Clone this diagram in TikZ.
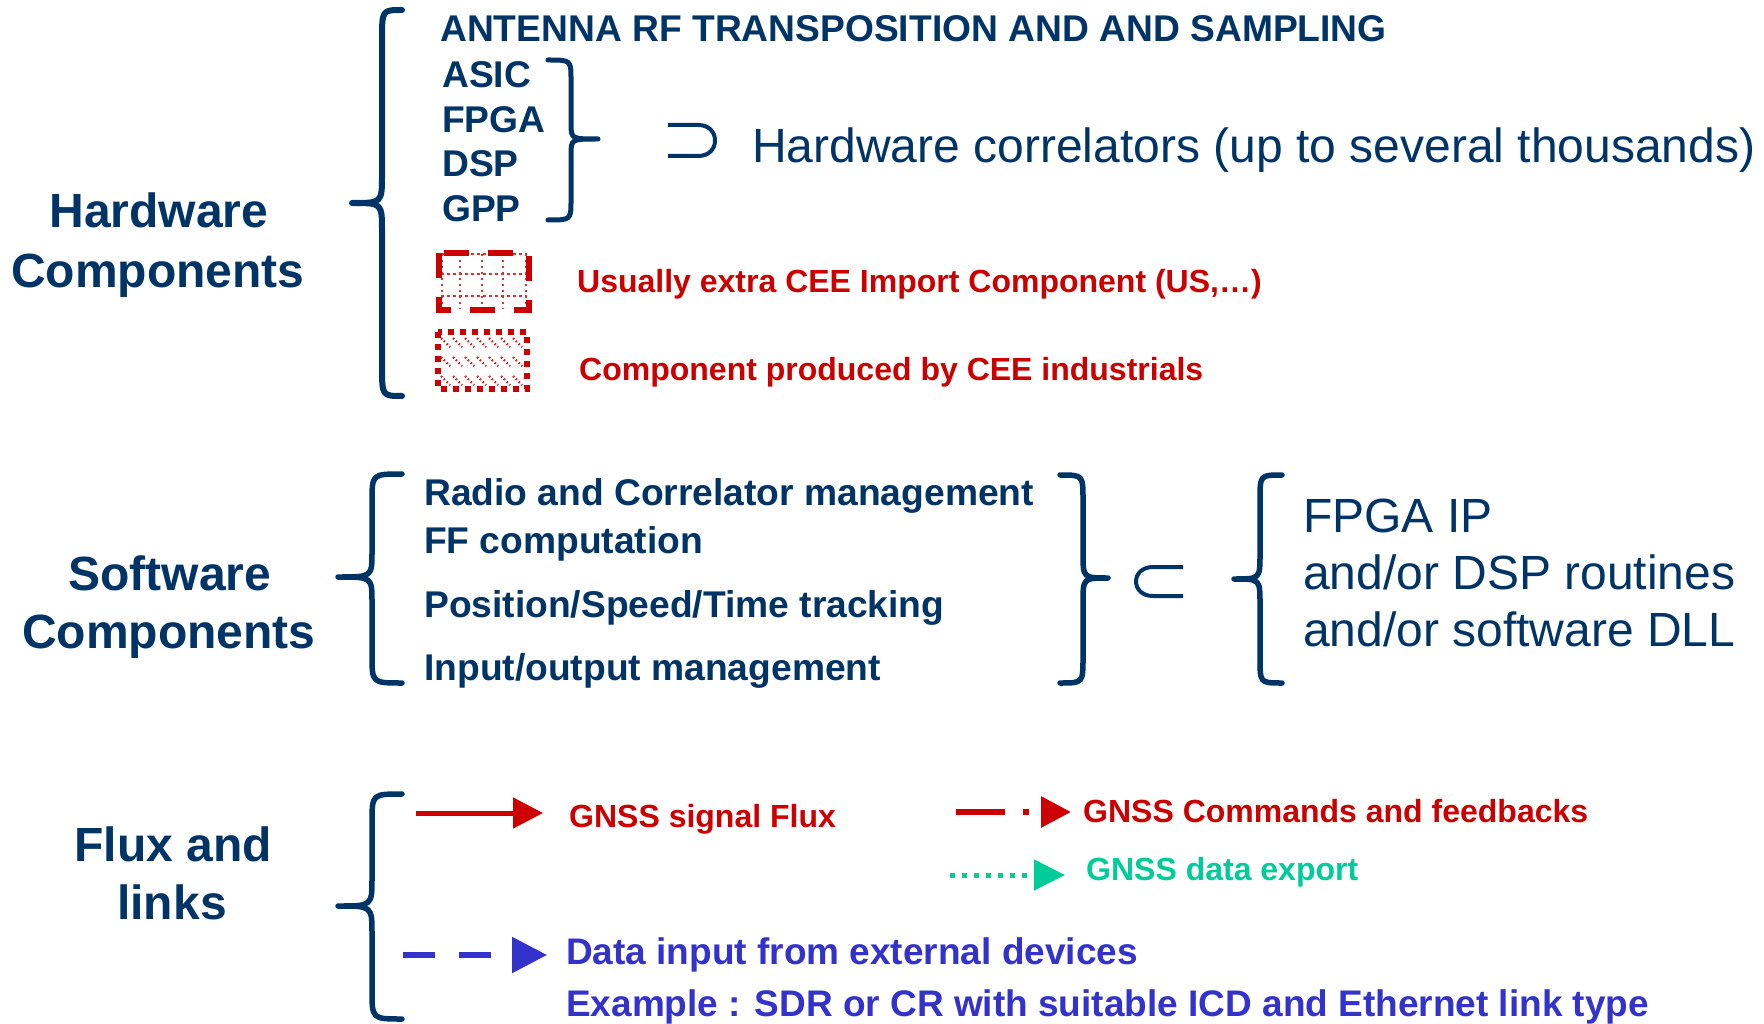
\documentclass[tikz,border=0pt]{standalone}
\usepackage{fontspec}
\setmainfont{Liberation Sans}
\usetikzlibrary{arrows.meta}
\definecolor{navy}{RGB}{0,51,102}
\definecolor{cred}{RGB}{204,0,0}
\definecolor{cteal}{RGB}{0,204,153}
\definecolor{cblue}{RGB}{51,51,204}
\begin{document}
\begin{tikzpicture}[x=1pt,y=-1pt,
  title/.style={anchor=base,text=navy,font=\fontsize{48}{58}\selectfont\bfseries,inner sep=0pt},
  item/.style={anchor=base west,text=navy,font=\fontsize{37.2}{44}\selectfont\bfseries,inner sep=0pt},
  big/.style={anchor=base west,text=navy,font=\fontsize{48}{58}\selectfont,inner sep=0pt},
  leg/.style={anchor=base west,font=\fontsize{32}{38}\selectfont\bfseries,inner sep=0pt},
  brace/.style={draw=navy,line width=5.5pt,line cap=round,line join=round},
  setsym/.style={draw=navy,line width=4pt},
  tipR/.style={-{Triangle[length=30pt,width=30pt]}}
]
\useasboundingbox (0,0) rectangle (1764,1024);

% ---------------- Hardware ----------------
\node[title] (hw1) at (159,228) {Hardware};
\node[title] (hw2) at (158,288) {Components};

\draw[brace,line width=6pt] (402,10) .. controls (382,10) .. (382,40) -- (382,175)
  .. controls (382,203) .. (352,203) .. controls (382,203) .. (382,231) -- (382,366)
  .. controls (382,396) .. (402,396);

\node[item] (ant) at (440,42) {ANTENNA RF TRANSPOSITION AND AND SAMPLING};
\node[item] (asic) at (442,88) {ASIC};
\node[item] (fpga) at (442,133) {FPGA};
\node[item] (dsp) at (442,177) {DSP};
\node[item] (gpp) at (442,222) {GPP};

\draw[brace,line width=5pt] (548,60) .. controls (571,60) .. (571,80) -- (571,123)
  .. controls (571,139) .. (598,139) .. controls (571,139) .. (571,155) -- (571,200)
  .. controls (571,220) .. (548,220);

\draw[setsym] (668,125) -- (698,125) .. controls (709,125) and (715,132) .. (715,140.5)
  .. controls (715,149) and (709,156) .. (698,156) -- (668,156);

\node[big] (hwcor) at (752,163) {Hardware correlators (up to several thousands)};

% legend box 1: dashed with dotted grid
\foreach \gx in {442,460,482,503,526}
  \draw[cred!80,line width=2.5pt,dash pattern=on 2.5pt off 3.5pt] (\gx,254) -- (\gx,309);
\foreach \gy in {254,274,296}
  \draw[cred!80,line width=2.5pt,dash pattern=on 2.5pt off 3.5pt] (441,\gy) -- (527,\gy);
\draw[cred,line width=6pt,dash pattern=on 25pt off 19pt] (439,253) rectangle (529,310);
\node[leg,text=cred] (leg1) at (577,293) {Usually extra CEE Import Component (US,…)};

% legend box 2: dotted with diagonal dotted hatching
\foreach \hx in {441,453,...,513}
  \foreach \hy in {338,357,376}
    \draw[cred!85,line width=2.2pt,dash pattern=on 1.6pt off 2.4pt] (\hx,\hy) -- ++(9,9);
\draw[cred,line width=6pt,dash pattern=on 6pt off 6pt] (438,332) rectangle (527,389);
\node[leg,text=cred] (leg2) at (579,380) {Component produced by CEE industrials};

% ---------------- Software ----------------
\node[title] (sw1) at (170,590) {Software};
\node[title] (sw2) at (169,648) {Components};

\draw[brace] (402,474) .. controls (372,474) .. (372,502) -- (372,552)
  .. controls (372,577) .. (338,577) .. controls (372,577) .. (372,602) -- (372,655)
  .. controls (372,683) .. (402,683);

\node[item] (radio) at (424,505) {Radio and Correlator management};
\node[item] (ff) at (424,553) {FF computation};
\node[item] (pos) at (424,617) {Position/Speed/Time tracking};
\node[item] (io) at (424,680) {Input/output management};

\draw[brace] (1060,475) .. controls (1083,475) .. (1083,500) -- (1083,553)
  .. controls (1083,578) .. (1108,578) .. controls (1083,578) .. (1083,603) -- (1083,658)
  .. controls (1083,683) .. (1060,683);

\draw[setsym] (1183,567) -- (1153,567) .. controls (1142,567) and (1136,574) .. (1136,581.5)
  .. controls (1136,589) and (1142,596) .. (1153,596) -- (1183,596);

\draw[brace] (1282,475) .. controls (1260,475) .. (1260,500) -- (1260,554)
  .. controls (1260,579) .. (1234,579) .. controls (1260,579) .. (1260,604) -- (1260,658)
  .. controls (1260,683) .. (1282,683);

\node[big] (ip1) at (1303,532) {FPGA IP};
\node[big] (ip2) at (1303,589) {and/or DSP routines};
\node[big] (ip3) at (1303,646) {and/or software DLL};

% ---------------- Flux ----------------
\node[title] (fl1) at (173,861) {Flux and};
\node[title] (fl2) at (172,919) {links};

\draw[brace] (402,794) .. controls (372,794) .. (372,823) -- (372,878)
  .. controls (372,906) .. (338,906) .. controls (372,906) .. (372,934) -- (372,990)
  .. controls (372,1019) .. (402,1019);

\coordinate (a1s) at (416,813);
\coordinate (a1e) at (543,813);
\draw[cred,line width=5pt,tipR] (a1s) -- (a1e);
\node[leg,text=cred] (t1) at (569,827) {GNSS signal Flux};

\coordinate (a2s) at (956,812);
\coordinate (a2e) at (1071,812);
\draw[cred,line width=6pt,dash pattern=on 49pt off 18pt on 6pt off 12pt,tipR] (a2s) -- (a2e);
\node[leg,text=cred] (t2) at (1083,822) {GNSS Commands and feedbacks};

\coordinate (a3s) at (950,875);
\coordinate (a3e) at (1065,875);
\draw[cteal,line width=5pt,dash pattern=on 5pt off 7pt,-{Triangle[length=31pt,width=30pt]}] (a3s) -- (a3e);
\node[leg,text=cteal] (t3) at (1086,880) {GNSS data export};

\coordinate (a4s) at (403,955);
\coordinate (a4e) at (547,955);
\draw[cblue,line width=5.5pt,dash pattern=on 32pt off 24pt,-{Triangle[length=35pt,width=35pt]}] (a4s) -- (a4e);
\node[anchor=base west,text=cblue,font=\fontsize{37}{44}\selectfont\bfseries,inner sep=0pt] (t4) at (566,964) {Data input from external devices};
\node[anchor=base west,text=cblue,font=\fontsize{37}{44}\selectfont\bfseries,inner sep=0pt] (t5) at (566,1016) {Example : SDR or CR with suitable ICD and Ethernet link type};
\end{tikzpicture}
\end{document}
